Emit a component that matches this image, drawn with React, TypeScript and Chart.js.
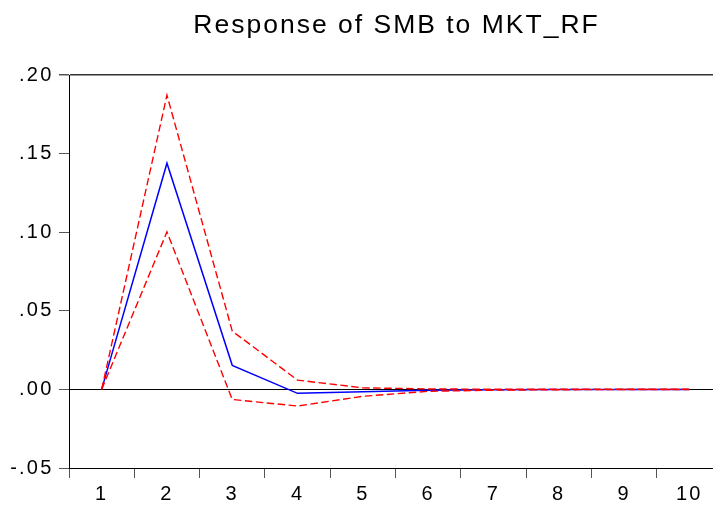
import React, { useEffect, useRef } from 'react';
import { Chart, registerables } from 'chart.js';

Chart.register(...registerables);

const titleText = 'Response of SMB to MKT_RF';
const periods = ['1', '2', '3', '4', '5', '6', '7', '8', '9', '10'];
const response = [0, 0.1439, 0.0153, -0.0025, -0.0015, -0.0006, -0.0002, -0.0001, 0, 0];
const upperBand = [0, 0.1872, 0.0371, 0.0059, 0.001, 0.0003, 0.0001, 0.0001, 0.0001, 0.0001];
const lowerBand = [0, 0.1002, -0.0064, -0.0106, -0.0044, -0.0012, -0.0005, -0.0002, -0.0001, -0.0001];
const yMin = -0.05;
const yMax = 0.2;
const yStep = 0.05;

const FONT = '"Liberation Sans", Arial, sans-serif';

const fmt = (v: number) => {
  const s = Math.abs(v) < 1e-9 ? '0.00' : v.toFixed(2);
  return s.replace(/^(-?)0\./, '$1.');
};

const stylePlugin = {
  id: 'eviewsStyle',
  beforeDraw(chart: any) {
    chart.ctx.letterSpacing = '2.2px';
  },
  afterDraw(chart: any) {
    const { ctx, chartArea } = chart;
    ctx.save();
    ctx.letterSpacing = '2px';
    ctx.font = `26.5px ${FONT}`;
    ctx.fillStyle = '#000';
    ctx.textAlign = 'center';
    ctx.textBaseline = 'alphabetic';
    ctx.fillText(titleText, (chartArea.left + chartArea.right) / 2 + 1, 33.3);
    ctx.restore();
  },
};

export default function App() {
  const ref = useRef<HTMLCanvasElement | null>(null);

  useEffect(() => {
    if (!ref.current) return;
    const chart = new Chart(ref.current, {
      type: 'line',
      data: {
        labels: periods,
        datasets: [
          {
            label: 'Upper',
            data: upperBand,
            borderColor: '#ff0000',
            borderWidth: 1.4,
            borderDash: [7.5, 3.5],
            pointRadius: 0,
            tension: 0,
            fill: false,
            order: 1,
          },
          {
            label: 'Lower',
            data: lowerBand,
            borderColor: '#ff0000',
            borderWidth: 1.4,
            borderDash: [7.5, 3.5],
            pointRadius: 0,
            tension: 0,
            fill: false,
            order: 1,
          },
          {
            label: 'Response',
            data: response,
            borderColor: '#0000ff',
            borderWidth: 1.5,
            pointRadius: 0,
            tension: 0,
            fill: false,
            order: 2,
          },
        ],
      },
      options: {
        responsive: false,
        maintainAspectRatio: false,
        animation: false,
        devicePixelRatio: 1,
        layout: { padding: { top: 75, right: 69, left: 0, bottom: 0 } },
        plugins: {
          legend: { display: false },
          title: { display: false },
          tooltip: { enabled: false },
        },
        scales: {
          x: {
            type: 'category',
            offset: true,
            afterFit: (s: any) => {
              s.height = 43;
            },
            grid: {
              offset: true,
              drawOnChartArea: false,
              drawTicks: true,
              tickLength: 10,
              tickColor: '#555',
              lineWidth: 1,
            },
            border: { display: true, color: '#000', width: 1 },
            ticks: {
              autoSkip: false,
              maxRotation: 0,
              padding: 4,
              color: '#000',
              font: { family: FONT, size: 20 },
            },
          },
          y: {
            type: 'linear',
            min: yMin,
            max: yMax,
            afterFit: (s: any) => {
              s.width = 69;
            },
            grid: {
              drawOnChartArea: true,
              drawTicks: true,
              tickLength: 10,
              tickColor: '#555',
              color: (c: any) => {
                const v = c.tick ? c.tick.value : NaN;
                if (Math.abs(v) < 1e-9) return '#000';
                if (Math.abs(v - yMax) < 1e-9) return '#333';
                return 'rgba(0,0,0,0)';
              },
              lineWidth: (c: any) => {
                const v = c.tick ? c.tick.value : NaN;
                if (Math.abs(v - yMax) < 1e-9) return 1.5;
                return 1;
              },
            },
            border: { display: true, color: '#000', width: 1 },
            ticks: {
              stepSize: yStep,
              padding: 5.5,
              color: '#000',
              font: { family: FONT, size: 20 },
              callback: (v: any) => fmt(Number(v)),
            },
          },
        },
      },
      plugins: [stylePlugin],
    } as any);
    return () => chart.destroy();
  }, []);

  return (
    <div
      style={{
        position: 'absolute',
        left: 0,
        top: 0,
        width: 713,
        height: 511,
        overflow: 'hidden',
        background: '#fff',
      }}
    >
      <canvas ref={ref} width={791} height={511} style={{ display: 'block', width: 791, height: 511 }} />
    </div>
  );
}
